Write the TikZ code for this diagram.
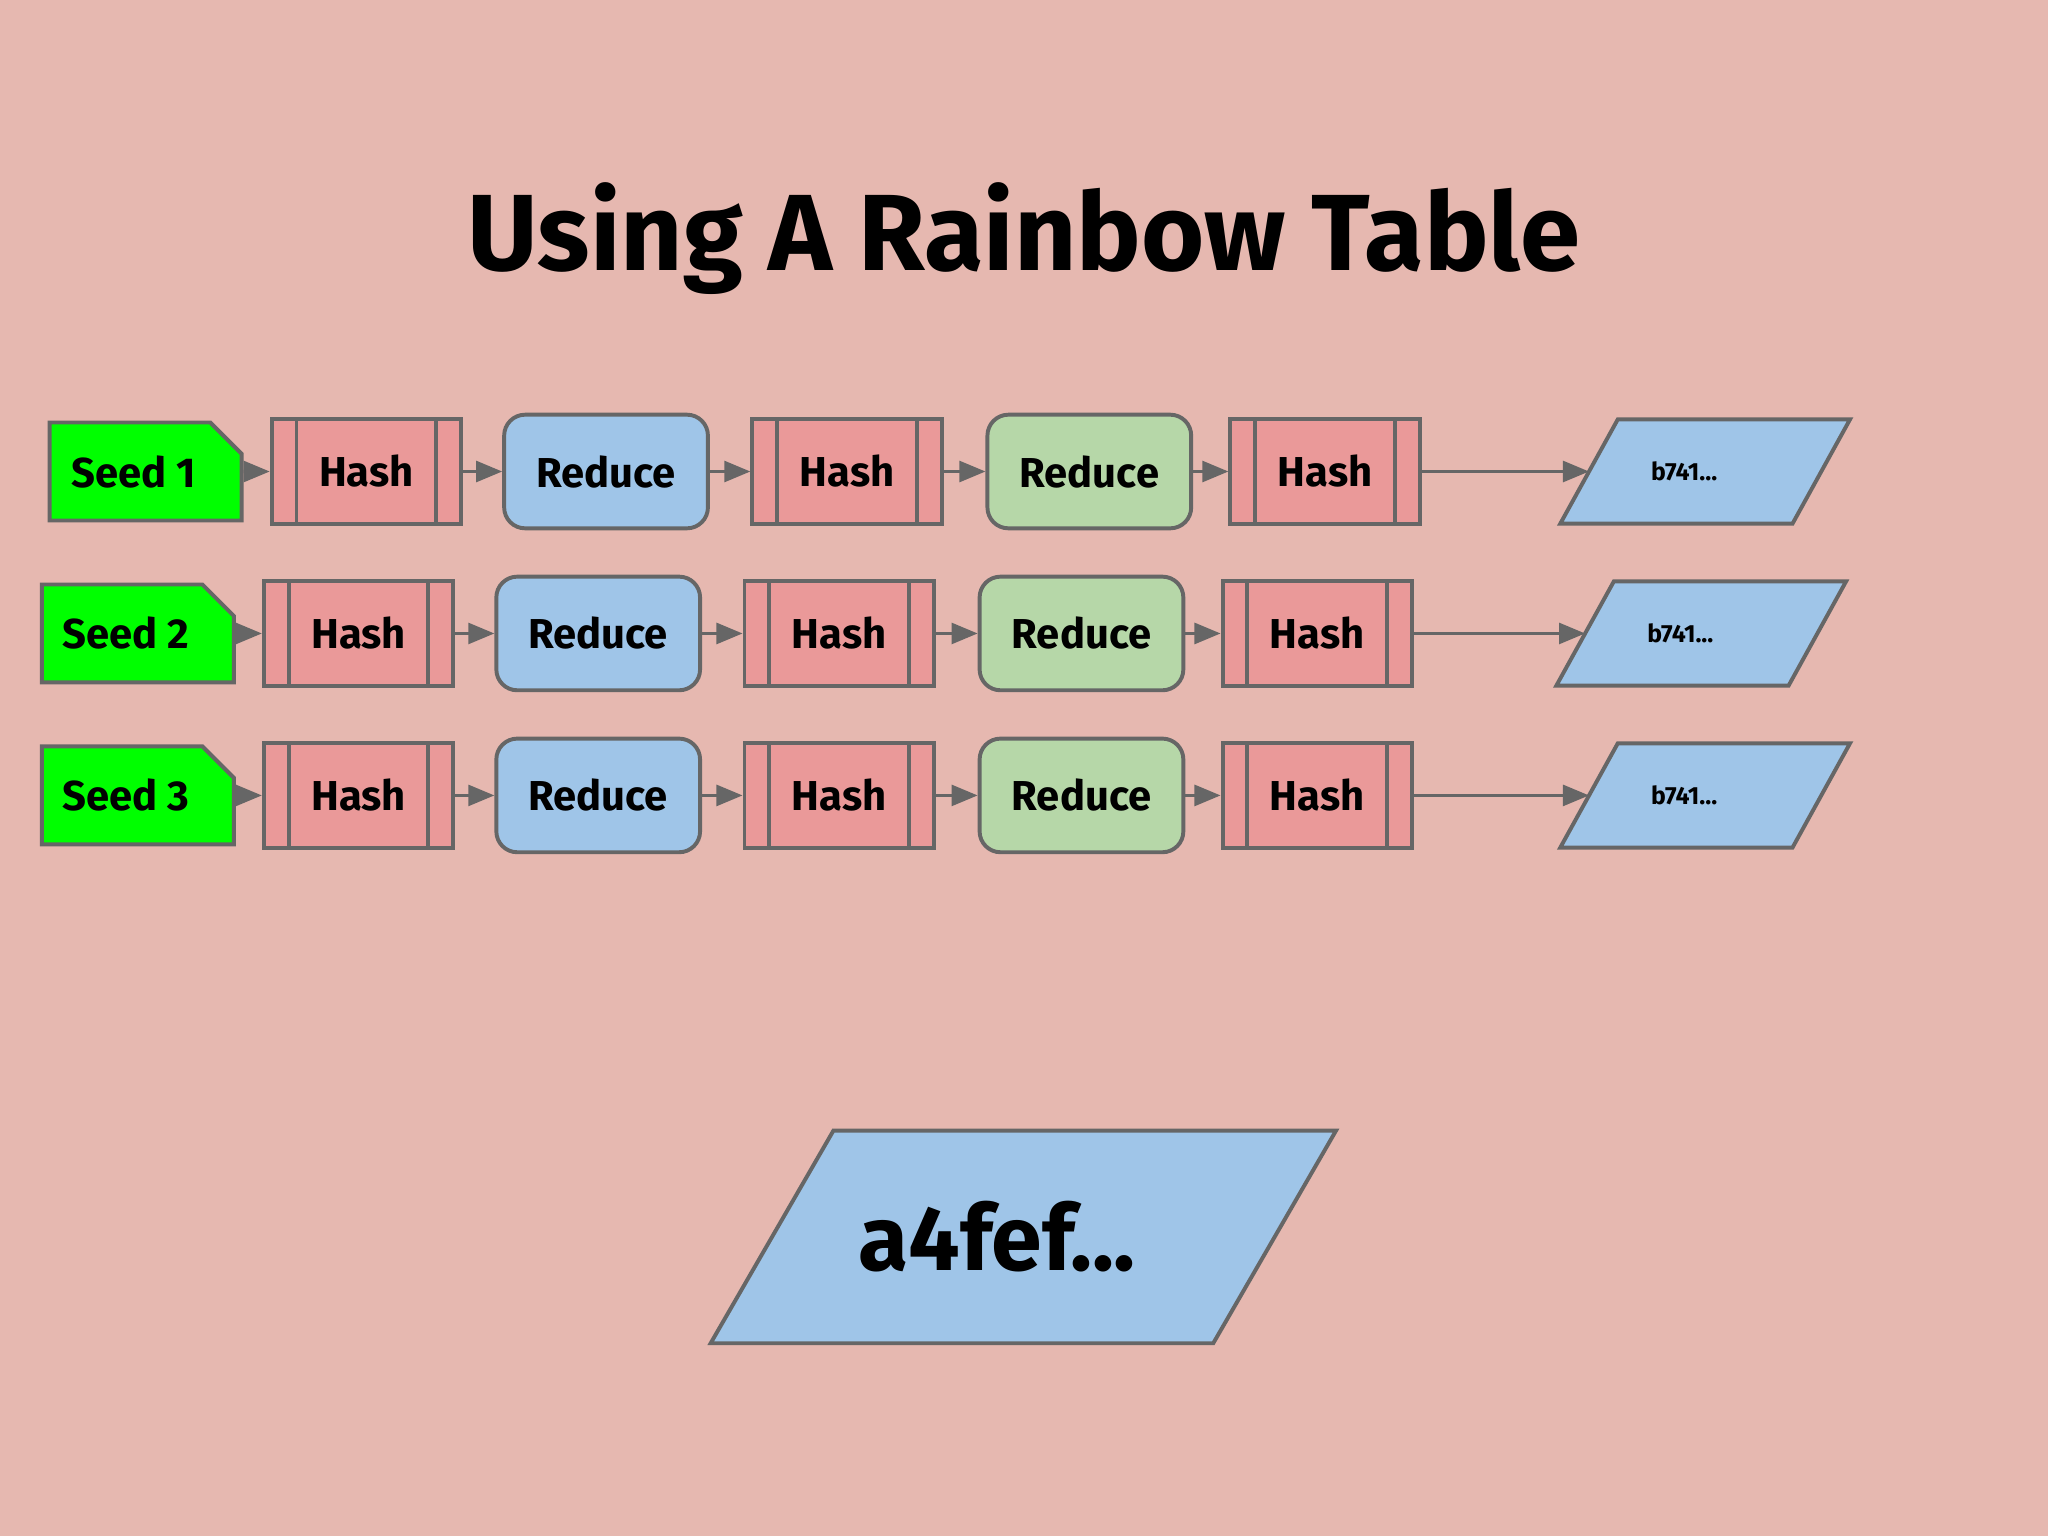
\documentclass[tikz,border=0pt]{standalone}
\usepackage{fontspec}
\setmainfont{Fira Sans}
\usetikzlibrary{shapes.misc,arrows.meta,calc}
\definecolor{bg}{HTML}{E6B8B0}
\definecolor{hashc}{HTML}{EA9999}
\definecolor{bluec}{HTML}{9FC5E8}
\definecolor{greenc}{HTML}{B6D7A8}
\definecolor{seedc}{HTML}{00FF00}
\definecolor{edge}{HTML}{666666}
\tikzset{
  base/.style={draw=edge,line width=1.5pt,font=\bfseries\fontsize{16}{18}\selectfont,text=black,inner sep=0pt},
  seedbox/.style={base,fill=seedc,chamfered rectangle,chamfered rectangle corners=north east,chamfered rectangle xsep=6pt,chamfered rectangle ysep=6pt,minimum width=73.5pt,minimum height=37.5pt},
  hashbox/.style={base,fill=hashc,rectangle,minimum width=72.5pt,minimum height=40pt,
    path picture={\draw[edge,line width=1.5pt]
      ([xshift=9.5pt]path picture bounding box.north west)--([xshift=9.5pt]path picture bounding box.south west)
      ([xshift=-9.5pt]path picture bounding box.north east)--([xshift=-9.5pt]path picture bounding box.south east);}},
  redbox/.style={base,fill=bluec,rounded corners=8pt,rectangle,minimum width=78pt,minimum height=43.5pt},
  grnbox/.style={redbox,fill=greenc},
  paratext/.style={inner sep=0pt,minimum width=88.5pt,minimum height=39.5pt},
  arr/.style={draw=edge,line width=1.2pt,-{Triangle[length=10pt,width=8pt]}},
}
\newcommand{\para}[4]{% name, slant, text x shift, text
  \fill[bluec,draw=edge,line width=1.5pt] ($(#1.north west)+(#2,0)$)--($(#1.north east)+(#2,0)$)--($(#1.south east)-(#2,0)$)--($(#1.south west)-(#2,0)$)--cycle;
  \node at ([xshift=#3]#1.center) {#4};}
\begin{document}
\begin{tikzpicture}[x=0.5pt,y=-0.5pt]
\fill[bg] (0,0) rectangle (1568,1176);
\useasboundingbox (0,0) rectangle (1568,1176);
\node[font=\bfseries\fontsize{41.5}{46}\selectfont] (title) at (784,183) {Using A Rainbow Table};
\foreach \r/\y/\dx/\pdx in {1/361/6/3, 2/485/0/0, 3/609/0/3}{
  \node[seedbox] (s\r) at (105.5+\dx,\y) {\hspace*{-9pt}Seed \r};
  \node[hashbox] (h\r a) at (274.5+\dx,\y) {Hash};
  \node[redbox] (r\r a) at (458+\dx,\y) {Reduce};
  \node[hashbox] (h\r b) at (642.5+\dx,\y) {Hash};
  \node[grnbox] (r\r b) at (828+\dx,\y) {Reduce};
  \node[hashbox] (h\r c) at (1008.5+\dx,\y) {Hash};
  \node[paratext] (p\r) at (1302.5+\pdx,\y) {};
  \para{p\r}{11pt}{-8pt}{\bfseries\fontsize{9.5}{10}\selectfont b741...}
  \draw[arr] (s\r) -- (h\r a);
  \draw[arr] (h\r a) -- (r\r a);
  \draw[arr] (r\r a) -- (h\r b);
  \draw[arr] (h\r b) -- (r\r b);
  \draw[arr] (r\r b) -- (h\r c);
  \draw[arr] (h\r c) -- (p\r.west);
}
\node[inner sep=0pt,minimum width=192pt,minimum height=81pt] (big) at (783.5,947) {};
\para{big}{23.5pt}{-10pt}{\bfseries\fontsize{35}{40}\selectfont a4fef...}
\end{tikzpicture}
\end{document}
